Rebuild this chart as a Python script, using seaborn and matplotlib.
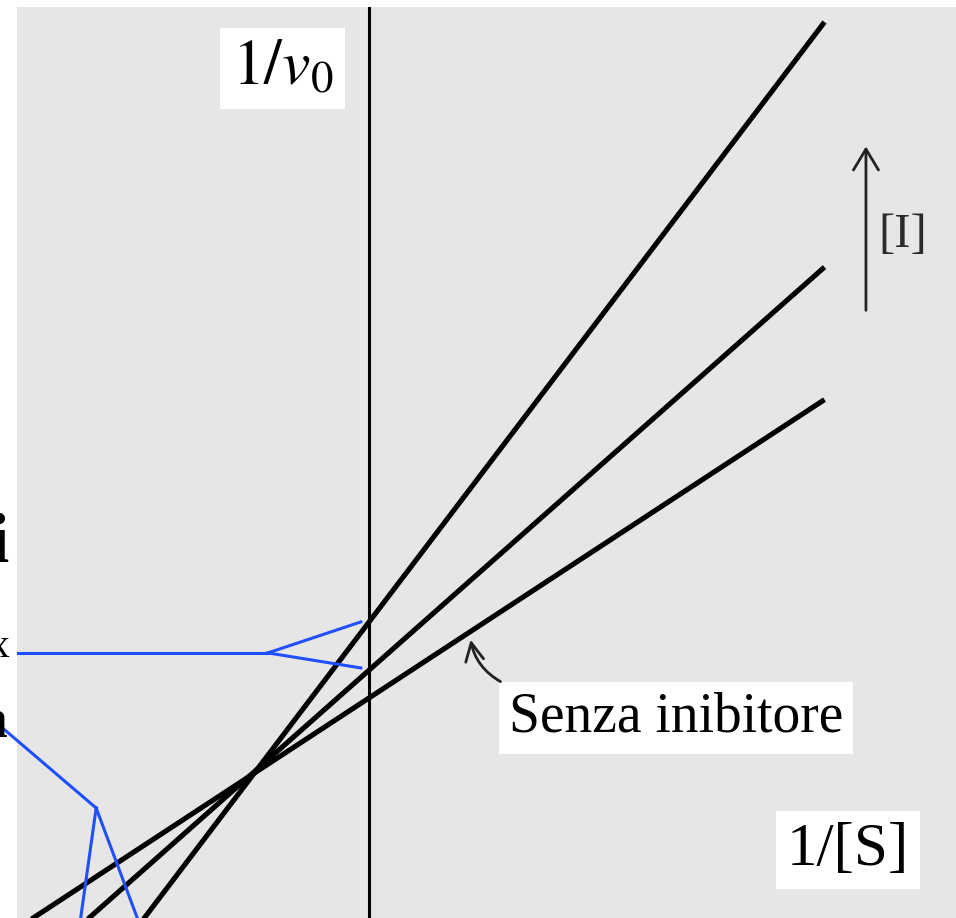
import matplotlib
matplotlib.use("Agg")
import matplotlib.pyplot as plt
import seaborn as sns
import pandas as pd

# ---- data (Lineweaver-Burk, mixed inhibition) ----
conditions = ["Senza inibitore", "[I] media", "[I] alta"]
x_ends = [-0.8, 1.0]                       # 1/[S]
y_no_inhib = [-0.041, 1.138]               # 1/v0
y_mid_inhib = [-0.164, 1.429]
y_high_inhib = [-0.404, 1.967]

rows = []
for name, ys in zip(conditions, [y_no_inhib, y_mid_inhib, y_high_inhib]):
    for xv, yv in zip(x_ends, ys):
        rows.append({"inv_S": xv, "inv_v0": yv, "condizione": name})
df = pd.DataFrame(rows)

plt.rcParams["mathtext.fontset"] = "stix"
plt.rcParams["font.family"] = ["Liberation Serif", "DejaVu Serif"]

W, H = 956, 918
fig = plt.figure(figsize=(W / 100, H / 100), dpi=100)
fig.patch.set_facecolor("white")
left_px, top_px = 17, 7
ax = fig.add_axes([left_px / W, 0, (W - left_px) / W, (H - top_px) / H])
ax.set_facecolor("#e6e6e6")
for s in ax.spines.values():
    s.set_visible(False)
ax.set_xticks([])
ax.set_yticks([])

scale = 455.5
ax.set_xlim((left_px - 369) / scale, (W - 369) / scale)
ax.set_ylim(0, (H - top_px) / scale)

sns.lineplot(data=df, x="inv_S", y="inv_v0", hue="condizione",
             palette=["black"] * 3, linewidth=3.7, legend=False,
             sort=False, ax=ax, solid_capstyle="butt")
ax.set_xlabel("")
ax.set_ylabel("")

# vertical axis (1/v0 axis)
ax.axvline(0, color="black", linewidth=2.2)

# labels
box = dict(facecolor="white", edgecolor="none", boxstyle="square,pad=0.18")
ax.text(-0.19, 1.864, r"$\mathrm{1/}\mathit{v}_{\mathrm{0}}$", fontsize=46,
        ha="center", va="center", bbox=box)
ax.text(0.674, 0.440, "Senza inibitore", fontsize=40,
        ha="center", va="center", bbox=box)
ax.text(1.052, 0.149, "1/[S]", fontsize=44, ha="center", va="center", bbox=box)
ax.text(1.172, 1.500, "[I]", fontsize=35, ha="center", va="center", color="#2a2a2a")

# [I] arrow
ax.annotate("", xy=(1.091, 1.700), xytext=(1.091, 1.328),
            arrowprops=dict(arrowstyle="->,head_length=1.5,head_width=0.9",
                            color="#222222", lw=2.0))

# curved arrow pointing at the no-inhibitor line
ax.annotate("", xy=(0.222, 0.617), xytext=(0.294, 0.516),
            arrowprops=dict(arrowstyle="->,head_length=1.3,head_width=0.65",
                            color="#222222", lw=2.0,
                            connectionstyle="arc3,rad=-0.25"))

# blue pointer lines (from off-image labels)
blue = "#1f4fff"
ax.plot([-0.771, -0.222], [0.582, 0.582], color=blue, lw=2.2, clip_on=False)
ax.plot([-0.222, -0.018], [0.582, 0.650], color=blue, lw=2.2)
ax.plot([-0.222, -0.018], [0.582, 0.549], color=blue, lw=2.2)
ax.plot([-0.812, -0.599], [0.4235, 0.2415], color=blue, lw=2.2, clip_on=False)
ax.plot([-0.599, -0.640], [0.2415, -0.05], color=blue, lw=2.2)
ax.plot([-0.599, -0.490], [0.2415, -0.05], color=blue, lw=2.2)

# cut-off slide text at left edge (cropped in the reference as well)
fig.text(9 / W, 1 - 562 / H, "i", fontsize=50, fontweight="bold",
         ha="right", va="baseline")
fig.text(9 / W, 1 - 657 / H, "x", fontsize=30, ha="right", va="baseline")
fig.text(7 / W, 1 - 737 / H, "a", fontsize=40, fontweight="bold",
         ha="right", va="baseline")

fig.savefig("out.png", dpi=100)
